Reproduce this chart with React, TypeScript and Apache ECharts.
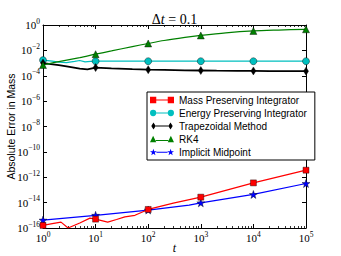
import React, { useEffect, useRef } from "react";
import * as echarts from "echarts";

// ---- data ----
const rk4T = [1, 2, 5, 10, 20, 50, 100, 200, 500, 1000, 3000, 10000, 30000, 100000];
const rk4Y = [7e-4, 1.3e-3, 2.7e-3, 5e-3, 9e-3, 2e-2, 3.5e-2, 6e-2, 0.105, 0.15, 0.24, 0.34, 0.4, 0.46];

const energyT = [1, 1.5, 2, 2.8, 4, 5, 6.3, 8, 10, 100, 1000, 10000, 100000];
const energyY = [1.7e-3, 1.4e-3, 1.2e-3, 1.1e-3, 1.35e-3, 1.6e-3, 1.25e-3, 1.35e-3, 1.4e-3, 1.4e-3, 1.4e-3, 1.4e-3, 1.4e-3];

const trapT = [1, 2, 3, 5, 7, 10, 20, 50, 100, 200, 500, 1000, 2000, 5000, 10000, 20000, 50000, 100000];
const trapY = [1e-3, 7e-4, 5.2e-4, 3.6e-4, 3.2e-4, 4.4e-4, 3.8e-4, 3.3e-4, 3e-4, 2.9e-4, 2.7e-4, 2.6e-4, 2.5e-4, 2.45e-4, 2.4e-4, 2.35e-4, 2.3e-4, 2.3e-4];

const massT = [1, 1.5, 2.2, 3, 5, 7.8, 10, 17, 25, 36, 56, 100, 300, 1000, 10000, 100000];
const massY = [1.6e-16, 2.2e-16, 2.9e-16, 1e-16, 2.5e-16, 6e-16, 5e-16, 2.9e-16, 4.7e-16, 7.5e-16, 1e-15, 2.9e-15, 9e-15, 2.7e-14, 3.6e-13, 3.6e-12];

const midT = [1, 10, 100, 600, 1000, 10000, 100000];
const midY = [4.2e-16, 1e-15, 2.6e-15, 6.3e-15, 9.6e-15, 4.4e-14, 3.2e-13];

const markerT = [1, 10, 100, 1000, 10000, 100000];

// minor tick positions on the t axis (2..9 per decade)
const minorDecades = [1, 10, 100, 1000, 10000];
const minorMultipliers = [2, 3, 4, 5, 6, 7, 8, 9];

const seriesNames = [
  "Mass Preserving Integrator",
  "Energy Preserving Integrator",
  "Trapezoidal Method",
  "RK4",
  "Implicit Midpoint",
];

const STAR =
  "path://M3.5,0.2L4.32,2.57L6.83,2.62L4.83,4.13L5.56,6.53L3.5,5.1L1.44,6.53L2.17,4.13L0.17,2.62L2.68,2.57Z";

const legendIcons = [
  "path://M0.5,0.5h6v6h-6zM17.5,0.5h6v6h-6zM6.5,3h11v1h-11z",
  "path://M0.5,3.5a3,3 0 1,0 6,0a3,3 0 1,0 -6,0zM17.5,3.5a3,3 0 1,0 6,0a3,3 0 1,0 -6,0zM6.5,3h11v1h-11z",
  "path://M3.5,0L5.7,3.5L3.5,7L1.3,3.5zM20.5,0L22.7,3.5L20.5,7L18.3,3.5zM5.7,3h12.6v1h-12.6z",
  "path://M3.5,0.5L6.5,6.5H0.5zM20.5,0.5L23.5,6.5H17.5zM6,4.5h12v1h-12z",
  "path://M3.5,0.2L4.32,2.57L6.83,2.62L4.83,4.13L5.56,6.53L3.5,5.1L1.44,6.53L2.17,4.13L0.17,2.62L2.68,2.57ZM20.5,0.2L21.32,2.57L23.83,2.62L21.83,4.13L22.56,6.53L20.5,5.1L18.44,6.53L19.17,4.13L17.17,2.62L19.68,2.57ZM6.5,3.1h11v1h-11z",
];

function build(ts: number[], ys: number[]) {
  return ts.map((t, i) => {
    const isMarker = markerT.indexOf(t) >= 0;
    return isMarker ? { value: [t, ys[i]] } : { value: [t, ys[i]], symbol: "none" };
  });
}

function fmt(v: number) {
  const e = Math.round(Math.log10(v));
  const s = e < 0 ? "\u2212" + -e : "" + e;
  return "{b|10}{s|" + s + "}";
}

const rich = {
  b: { fontFamily: "Liberation Serif", fontSize: 11, color: "#000" },
  s: { fontFamily: "Liberation Serif", fontSize: 7.5, color: "#000", padding: [0, 0, 8, 0] },
};

export default function App() {
  const ref = useRef<HTMLDivElement>(null);
  useEffect(() => {
    const chart = echarts.init(ref.current!, null, { renderer: "svg" });
    const colors = ["#ff0000", "#00bfbf", "#000000", "#008000", "#0000ff"];
    const symbols = ["rect", "circle", "diamond", "triangle", STAR];
    const sizes: any[] = [6, 7, [5, 8], 7, 8];
    const lws = [1.2, 1.2, 1.8, 1.2, 1.2];
    const datasets = [
      build(massT, massY),
      build(energyT, energyY),
      build(trapT, trapY),
      build(rk4T, rk4Y),
      build(midT, midY),
    ];
    const series: any[] = seriesNames.map((name, i) => ({
      name,
      type: "line",
      data: datasets[i],
      symbol: symbols[i],
      symbolSize: sizes[i],
      showAllSymbol: true,
      smooth: i === 3 ? 0.3 : false,
      z: i === 0 ? 3 : 2,
      lineStyle: { color: colors[i], width: lws[i] },
      itemStyle: { color: colors[i], borderColor: "#000", borderWidth: 0.4, opacity: 1 },
      emphasis: { disabled: true },
    }));

    const minorT: number[][] = [];
    minorDecades.forEach((d) => minorMultipliers.forEach((m) => minorT.push([d * m, 1])));
    series.push({
      type: "custom",
      name: "minorTicks",
      silent: true,
      data: minorT,
      clip: false,
      renderItem: (params: any, api: any) => {
        const p = api.coord([api.value(0), 1]);
        const cs = params.coordSys;
        const x = Math.round(p[0]) + 0.5;
        const yb = cs.y + cs.height;
        const yt = cs.y;
        return {
          type: "group",
          children: [
            { type: "line", shape: { x1: x, y1: yb, x2: x, y2: yb - 2 }, style: { stroke: "#000", lineWidth: 0.8 } },
            { type: "line", shape: { x1: x, y1: yt, x2: x, y2: yt + 2 }, style: { stroke: "#000", lineWidth: 0.8 } },
          ],
        };
      },
    });

    const axisCommon = {
      type: "log",
      logBase: 10,
      splitLine: { show: false },
      axisLine: { show: true, lineStyle: { color: "#000", width: 1 } },
      axisTick: { show: true, inside: true, length: 4, lineStyle: { color: "#000" } },
    };

    chart.setOption({
      animation: false,
      grid: { left: 43, right: 35, top: 25, bottom: 28, containLabel: false, outerBoundsMode: "none" },
      graphic: [
        {
          type: "text",
          x: 174.5,
          y: 19,
          style: {
            text: "\u0394{i|t} = 0.1",
            fontFamily: "Liberation Serif",
            fontSize: 14,
            fill: "#000",
            align: "center",
            verticalAlign: "middle",
            rich: { i: { fontStyle: "italic", fontFamily: "Liberation Serif", fontSize: 14 } },
          },
        },
      ],
      legend: {
        orient: "vertical",
        left: 147,
        top: 92,
        width: 155,
        itemWidth: 24,
        itemHeight: 7,
        itemGap: 3,
        padding: [3, 8, 3, 3],
        backgroundColor: "#fff",
        borderColor: "#000",
        borderWidth: 1,
        borderRadius: 0,
        selectedMode: false,
        itemStyle: { borderWidth: 0 },
        textStyle: { fontFamily: "Liberation Sans", fontSize: 10, color: "#000" },
        data: seriesNames.map((n, i) => ({ name: n, icon: legendIcons[i] })),
      },
      xAxis: [
        {
          ...axisCommon,
          min: 1,
          max: 100000,
          position: "bottom",
          name: "t",
          nameLocation: "middle",
          nameGap: 14,
          nameMoveOverlap: false,
          nameTextStyle: { fontFamily: "Liberation Serif", fontStyle: "italic", fontSize: 12, color: "#000" },
          axisLabel: { formatter: fmt, rich, margin: 2 },
        },
        {
          ...axisCommon,
          min: 1,
          max: 100000,
          position: "top",
          axisLabel: { show: false },
        },
      ],
      yAxis: [
        {
          ...axisCommon,
          min: 1e-16,
          max: 1,
          interval: 2,
          position: "left",
          name: "Absolute Error in Mass",
          nameLocation: "middle",
          nameGap: 27,
          nameMoveOverlap: false,
          nameTextStyle: { fontFamily: "Liberation Sans", fontSize: 10.5, color: "#000" },
          axisLabel: { formatter: fmt, rich, margin: 3 },
        },
        {
          ...axisCommon,
          min: 1e-16,
          max: 1,
          interval: 2,
          position: "right",
          axisLabel: { show: false },
        },
      ],
      series,
    });
    return () => chart.dispose();
  }, []);
  return (
    <div
      ref={ref}
      style={{ position: "fixed", left: 0, top: 0, width: 341, height: 256, background: "#fff" }}
    />
  );
}
